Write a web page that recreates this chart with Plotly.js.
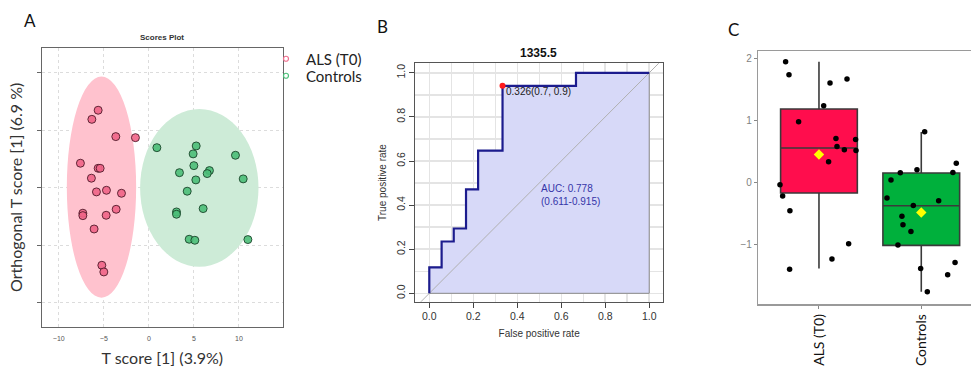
<!DOCTYPE html>
<html>
<head>
<meta charset="utf-8">
<script src="https://cdn.plot.ly/plotly-3.0.1.min.js"></script>
<style>html,body{margin:0;padding:0;background:#fff;}#chart{width:971px;height:367px;}</style>
</head>
<body>
<div id="chart"></div>
<script>
// ---------- Panel A: OPLS-DA scores ----------
const alsT = [-5.63,-6.33,-3.67,-1.49,-7.60,-5.63,-5.41,-6.38,-5.82,-4.71,-3.04,-7.33,-7.33,-4.74,-3.63,-6.08,-5.22,-5.00];
const alsO = [6.72,5.93,4.43,4.34,2.12,1.68,1.68,0.82,-0.37,-0.23,-0.49,-2.22,-2.43,-2.40,-1.88,-3.59,-6.74,-7.32];
const ctlT = [0.89,5.26,4.92,9.62,5.00,3.40,6.73,6.48,5.22,10.48,4.26,3.07,3.07,6.03,4.48,5.11,11.00];
const ctlO = [3.47,3.62,2.93,2.81,1.91,1.30,1.48,1.22,0.67,0.76,-0.31,-2.11,-2.31,-1.82,-4.48,-4.57,-4.51];
// ellipse bounds [xmin, xmax, ymin, ymax]
const alsEllipse = [-9.11,-1.41,-9.55,9.64];
const ctlEllipse = [-0.97,12.18,-6.86,6.83];
const groupNames = ["ALS (T0)","Controls"];
const scoreTicks = [-10,-5,0,5,10];

// ---------- Panel B: ROC ----------
const fpr = [0,0,0.056,0.111,0.167,0.222,0.333,0.667,1];
const tpr = [0,0.118,0.235,0.294,0.471,0.647,0.941,1,1];
const cutFpr = [0.333], cutTpr = [0.941];
const cutLabel = "0.326(0.7, 0.9)";
const aucLabel = "AUC: 0.778<br>(0.611-0.915)";
const rocTicks = [0,0.2,0.4,0.6,0.8,1.0];
const rocTickText = ["0.0","0.2","0.4","0.6","0.8","1.0"];

// ---------- Panel C: box plot ----------
const boxQ1 = [-0.171,-1.017];
const boxMed = [0.556,-0.376];
const boxQ3 = [1.186,0.152];
const boxLo = [-1.39,-1.766];
const boxHi = [1.95,0.814];
const boxMean = [0.452,-0.485];
const alsVals = [1.95,1.74,1.605,1.67,1.24,0.981,0.711,0.695,0.582,0.528,0.517,0.334,-0.037,-0.22,-0.456,-0.99,-1.237,-1.404];
const alsJit  = [-0.326,-0.293,0.108,0.274,0.046,-0.199,0.166,0.358,0.176,0.248,0.362,0.094,-0.381,-0.355,-0.284,0.290,0.127,-0.287];
const ctlVals = [0.82,0.312,0.162,0.205,0.156,0.038,-0.252,-0.295,-0.371,-0.548,-0.683,-0.791,-1.012,-1.389,-1.292,-1.491,-1.766];
const ctlJit  = [0.033,0.342,0.309,-0.042,-0.205,-0.296,-0.335,0.170,-0.078,-0.189,-0.179,-0.101,-0.228,-0.006,0.330,0.258,0.059];
const boxCats = [0,1];
const boxColors = ["#FF0D4D","#00B03C"];

const W = 971, H = 367;
const px = v => v / W;
const py = v => 1 - v / H;

const calib = "Lato, 'Open Sans', sans-serif";
const rfont = "'Liberation Sans', Arial, sans-serif";

const traces = [];
// Panel A
traces.push({type:'scatter', mode:'markers', x:alsT, y:alsO, xaxis:'x', yaxis:'y', showlegend:false, hoverinfo:'skip',
  marker:{size:8, color:'rgba(240,100,135,0.9)', line:{color:'rgba(70,20,35,0.85)', width:1}}});
traces.push({type:'scatter', mode:'markers', x:ctlT, y:ctlO, xaxis:'x', yaxis:'y', showlegend:false, hoverinfo:'skip',
  marker:{size:8, color:'rgba(75,190,120,0.9)', line:{color:'rgba(20,60,35,0.85)', width:1}}});
traces.push({type:'scatter', mode:'markers', x:[null], y:[null], xaxis:'x', yaxis:'y', name:groupNames[0], showlegend:true, legend:'legend',
  marker:{size:5, symbol:'circle-open', color:'#F07090', line:{width:1.2}}});
traces.push({type:'scatter', mode:'markers', x:[null], y:[null], xaxis:'x', yaxis:'y', name:groupNames[1], showlegend:true, legend:'legend2',
  marker:{size:5, symbol:'circle-open', color:'#4CC17A', line:{width:1.2}}});

// Panel B
traces.push({type:'scatter', mode:'lines', x:fpr.concat([1,0]), y:tpr.concat([0,0]), xaxis:'x2', yaxis:'y2',
  fill:'toself', fillcolor:'rgba(215,217,248,1)', line:{color:'#8a8a8a', width:1, shape:'hv'}, showlegend:false, hoverinfo:'skip'});
traces.push({type:'scatter', mode:'lines', x:[-0.2,1.2], y:[-0.2,1.2], xaxis:'x2', yaxis:'y2',
  line:{color:'#b0b0b0', width:1}, showlegend:false, hoverinfo:'skip'});
traces.push({type:'scatter', mode:'lines', x:fpr, y:tpr, xaxis:'x2', yaxis:'y2',
  line:{color:'#1C1C8E', width:2.2, shape:'hv'}, showlegend:false, hoverinfo:'skip'});
traces.push({type:'scatter', mode:'markers', x:cutFpr, y:cutTpr, xaxis:'x2', yaxis:'y2',
  marker:{color:'#FF1A1A', size:6}, showlegend:false, hoverinfo:'skip'});

// Panel C
for (let i = 0; i < boxCats.length; i++) {
  traces.push({type:'box', x:[boxCats[i]], q1:[boxQ1[i]], median:[boxMed[i]], q3:[boxQ3[i]],
    lowerfence:[boxLo[i]], upperfence:[boxHi[i]], xaxis:'x3', yaxis:'y3', width:0.75, whiskerwidth:0,
    fillcolor:boxColors[i], line:{color:'#3a3a3a', width:1.6}, boxpoints:false, showlegend:false, hoverinfo:'skip'});
}
traces.push({type:'scatter', mode:'markers', x:alsJit.map(j => boxCats[0] + j), y:alsVals, xaxis:'x3', yaxis:'y3',
  marker:{color:'#000', size:5.5}, showlegend:false, hoverinfo:'skip'});
traces.push({type:'scatter', mode:'markers', x:ctlJit.map(j => boxCats[1] + j), y:ctlVals, xaxis:'x3', yaxis:'y3',
  marker:{color:'#000', size:5.5}, showlegend:false, hoverinfo:'skip'});
traces.push({type:'scatter', mode:'markers', x:boxCats, y:boxMean, xaxis:'x3', yaxis:'y3',
  marker:{color:'#FFFF00', size:8, symbol:'diamond'}, showlegend:false, hoverinfo:'skip'});

const legendBase = {xanchor:'left', yanchor:'middle', font:{family:calib, size:15, color:'#222'},
  bgcolor:'rgba(0,0,0,0)', itemwidth:30, borderwidth:0};

const layout = {
  width: W, height: H,
  margin:{l:0, r:0, t:0, b:0},
  paper_bgcolor:'#fff', plot_bgcolor:'#fff',
  showlegend:true,
  legend:Object.assign({}, legendBase, {x:px(266), y:py(59)}),
  legend2:Object.assign({}, legendBase, {x:px(266), y:py(76)}),
  // Panel A
  xaxis:{anchor:'y', domain:[px(41.7), px(283)], range:[-11.9,14.9], tickvals:scoreTicks, showgrid:true, gridcolor:'#dcdcdc', griddash:'dot',
    zeroline:false, showline:true, mirror:true, linecolor:'#666', linewidth:1, ticks:'outside', ticklen:5, tickcolor:'rgba(0,0,0,0)',
    tickfont:{family:rfont, size:7, color:'#555'},
    title:{text:'T score [1] (3.9%)', font:{family:calib, size:16, color:'#333'}, standoff:12}},
  yaxis:{anchor:'x', domain:[py(327), py(47.7)], range:[-12.1,12.15], tickvals:scoreTicks, showticklabels:false, showgrid:true, gridcolor:'#dcdcdc', griddash:'dot',
    zeroline:false, showline:true, mirror:true, linecolor:'#666', linewidth:1, ticks:'outside', ticklen:4, tickcolor:'#666',
    title:{text:'Orthogonal T score [1] (6.9 %)', font:{family:calib, size:16, color:'#333'}, standoff:10}},
  // Panel B
  xaxis2:{anchor:'y2', domain:[px(415), px(663.3)], range:[-0.065,1.064], tickvals:rocTicks, ticktext:rocTickText, showgrid:true,
    gridcolor:'#e4e4e4', gridwidth:1.5, minor:{dtick:0.1, tick0:0, showgrid:true, gridcolor:'#e4e4e4', gridwidth:1.5},
    zeroline:false, showline:true, mirror:true, linecolor:'#555', linewidth:1, ticks:'outside', ticklen:5, tickcolor:'#444',
    tickfont:{family:rfont, size:10.5, color:'#333'},
    title:{text:'False positive rate', font:{family:rfont, size:10, color:'#333'}, standoff:8}},
  yaxis2:{anchor:'x2', domain:[py(301.7), py(63.3)], range:[-0.038,1.043], tickvals:rocTicks, ticktext:rocTickText, tickangle:-90, showgrid:true,
    gridcolor:'#e4e4e4', gridwidth:1.5, minor:{dtick:0.1, tick0:0, showgrid:true, gridcolor:'#e4e4e4', gridwidth:1.5},
    zeroline:false, showline:true, mirror:true, linecolor:'#555', linewidth:1, ticks:'outside', ticklen:5, tickcolor:'#444',
    tickfont:{family:rfont, size:10.5, color:'#333'},
    title:{text:'True positive rate', font:{family:rfont, size:10, color:'#333'}, standoff:6}},
  // Panel C
  xaxis3:{anchor:'y3', domain:[px(758.3), 1], range:[-0.593,1.486], tickvals:boxCats, ticktext:groupNames, tickangle:-90,
    showgrid:false, zeroline:false, showline:true, mirror:true, linecolor:'#9a9a9a', linewidth:1.5,
    ticks:'outside', ticklen:3, tickcolor:'#888', tickfont:{family:calib, size:14, color:'#111'}},
  yaxis3:{anchor:'x3', domain:[py(304), py(51)], range:[-1.964,2.124], tickvals:[-1,0,1,2], showgrid:false, zeroline:false,
    showline:true, linecolor:'#9a9a9a', linewidth:1.5, ticks:'outside', ticklen:3, tickcolor:'#888',
    tickfont:{family:rfont, size:10, color:'#7f7f7f'}},
  shapes:[
    {type:'circle', xref:'x', yref:'y', x0:alsEllipse[0], x1:alsEllipse[1], y0:alsEllipse[2], y1:alsEllipse[3],
      fillcolor:'#FFC2CE', line:{width:0}, layer:'between'},
    {type:'circle', xref:'x', yref:'y', x0:ctlEllipse[0], x1:ctlEllipse[1], y0:ctlEllipse[2], y1:ctlEllipse[3],
      fillcolor:'#CDEBD7', line:{width:0}, layer:'between'}
  ],
  annotations:[
    {text:'A', xref:'paper', yref:'paper', x:px(30), y:py(20), xanchor:'center', yanchor:'middle', showarrow:false, font:{family:calib, size:17, color:'#111'}},
    {text:'B', xref:'paper', yref:'paper', x:px(382), y:py(26), xanchor:'center', yanchor:'middle', showarrow:false, font:{family:calib, size:17, color:'#111'}},
    {text:'C', xref:'paper', yref:'paper', x:px(733), y:py(30), xanchor:'center', yanchor:'middle', showarrow:false, font:{family:calib, size:17, color:'#111'}},
    {text:'<b>Scores Plot</b>', xref:'paper', yref:'paper', x:px(162), y:py(37), xanchor:'center', yanchor:'middle', showarrow:false, font:{family:rfont, size:8, color:'#333'}},
    {text:'<b>1335.5</b>', xref:'paper', yref:'paper', x:px(538), y:py(53), xanchor:'center', yanchor:'middle', showarrow:false, font:{family:rfont, size:12, color:'#111'}},
    {text:cutLabel, xref:'x2', yref:'y2', x:cutFpr[0], y:cutTpr[0], xanchor:'left', yanchor:'top', xshift:1, yshift:2, showarrow:false,
      font:{family:rfont, size:10, color:'#222'}},
    {text:aucLabel, xref:'x2', yref:'y2', x:0.5, y:0.51, xanchor:'left', yanchor:'top', align:'left', showarrow:false,
      font:{family:rfont, size:10, color:'#3535A8'}}
  ]
};

Plotly.newPlot('chart', traces, layout, {displayModeBar:false, staticPlot:true});
</script>
</body>
</html>
